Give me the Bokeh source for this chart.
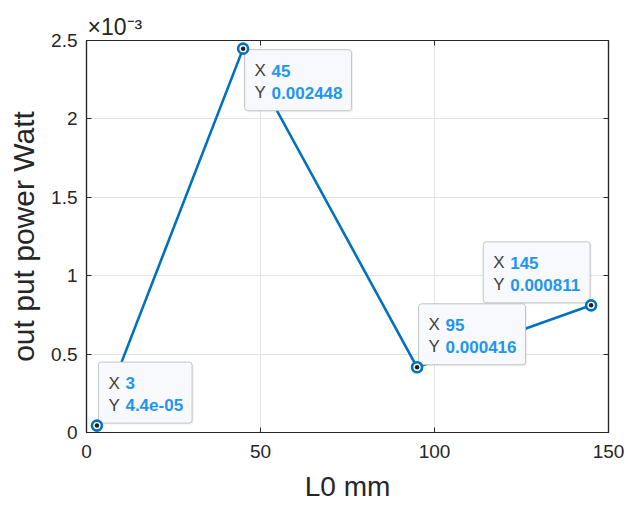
from bokeh.plotting import figure
from bokeh.models import Range1d, FixedTicker, LinearAxis, Label
from bokeh.embed import file_html
from bokeh.resources import INLINE

# ---------------- data ----------------
x_vals = [3, 45, 95, 145]
y_vals = [4.4e-05, 0.002448, 0.000416, 0.000811]
x_ticks = [0, 50, 100, 150]
x_tick_labels = ["0", "50", "100", "150"]
y_ticks = [0, 0.5, 1, 1.5, 2, 2.5]
y_tick_labels = ["0", "0.5", "1", "1.5", "2", "2.5"]
y_exponent = -3
x_label = "L0 mm"
y_label = "out put power Watt"
tip_place = ["up-right", "down-right", "up-right", "up-left"]

# ---------------- style ----------------
FONT = "Liberation Sans"
AX = "#262626"
LINE = "#0072BD"
TIPBLUE = "#1E96F0"
W, H = 628, 508
ML, MR, MT, MB = 86, 20, 40, 76
FW, FH = W - ML - MR, H - MT - MB

scale = 10 ** (-y_exponent)
ys = [v * scale for v in y_vals]

x0, x1 = x_ticks[0], x_ticks[-1]
y0, y1 = y_ticks[0], y_ticks[-1]
dxpp = (x1 - x0) / FW
dypp = (y1 - y0) / FH

sup = str.maketrans("-0123456789", "\u207b\u2070\u00b9\u00b2\u00b3\u2074\u2075\u2076\u2077\u2078\u2079")
exp_text = "\u00d710" + str(y_exponent).translate(sup)

p = figure(width=W, height=H, x_range=Range1d(x0, x1), y_range=Range1d(y0, y1),
           output_backend="svg", toolbar_location=None,
           min_border_left=ML, min_border_right=MR, min_border_top=MT, min_border_bottom=MB,
           background_fill_color="white", border_fill_color="white")
p.outline_line_color = AX
p.outline_line_width = 1.2

p.title.text = exp_text
p.title.align = "left"
p.title.offset = 1
p.title.standoff = 1
p.title.text_font = FONT
p.title.text_font_size = "23px"
p.title.text_font_style = "normal"
p.title.text_color = AX

def style_axis(ax, ticks, labels, show):
    ax.ticker = FixedTicker(ticks=ticks)
    ax.major_tick_in = 5
    ax.major_tick_out = 0
    ax.minor_tick_line_color = None
    ax.axis_line_color = AX
    ax.axis_line_width = 1.2
    ax.major_tick_line_color = AX
    ax.major_tick_line_width = 1
    ax.major_label_text_font = FONT
    ax.major_label_text_color = AX
    if show:
        ax.major_label_overrides = {t: l for t, l in zip(ticks, labels)}
        ax.major_label_text_font_size = "19px"
    else:
        ax.major_label_overrides = {t: "" for t in ticks}
        ax.major_label_text_font_size = "1px"
        ax.major_label_standoff = 0

style_axis(p.xaxis[0], x_ticks, x_tick_labels, True)
style_axis(p.yaxis[0], y_ticks, y_tick_labels, True)
p.xaxis[0].major_label_standoff = 12
p.yaxis[0].major_label_standoff = 9
for ax, lab, st, fs in ((p.xaxis[0], x_label, 10, "28px"), (p.yaxis[0], y_label, 8, "30px")):
    ax.axis_label = lab
    ax.axis_label_text_font = FONT
    ax.axis_label_text_font_style = "normal"
    ax.axis_label_text_font_size = fs
    ax.axis_label_text_color = AX
    ax.axis_label_standoff = st

top_ax = LinearAxis()
right_ax = LinearAxis()
style_axis(top_ax, x_ticks, x_tick_labels, False)
style_axis(right_ax, y_ticks, y_tick_labels, False)
p.add_layout(top_ax, "above")
p.add_layout(right_ax, "right")

p.xgrid.ticker = FixedTicker(ticks=x_ticks)
p.ygrid.ticker = FixedTicker(ticks=y_ticks)
p.grid.grid_line_color = "#E3E3E3"
p.grid.grid_line_width = 1

# data line
p.line(x_vals, ys, line_color=LINE, line_width=2.6)

# datatips
char_w = {".": 0.278, "-": 0.333, "e": 0.556}
def text_w(s, size):
    return sum(char_w.get(c, 0.556) for c in s) * size

lefts, rights, bottoms, tops = [], [], [], []
tips = []
for xv, yv, yd, place in zip(x_vals, y_vals, ys, tip_place):
    xs = f"{xv:g}"
    ys_s = f"{yv:.4g}"
    w = 27 + max(text_w(xs, 17), text_w(ys_s, 17)) + 9
    if place.endswith("right"):
        l_px, r_px = 1.5, 1.5 + w
    else:
        l_px, r_px = -1 - w, -1
    if place.startswith("up"):
        b_px, t_px = 2.5, 63.5
    else:
        b_px, t_px = -62, -1
    lefts.append(xv + l_px * dxpp)
    rights.append(xv + r_px * dxpp)
    bottoms.append(yd + b_px * dypp)
    tops.append(yd + t_px * dypp)
    tips.append((xv, yd, l_px, t_px, xs, ys_s))

# soft shadow + boxes
p.quad(left=[l + 1.5 * dxpp for l in lefts], right=[r + 1.5 * dxpp for r in rights],
       bottom=[b - 1.5 * dypp for b in bottoms], top=[t - 1.5 * dypp for t in tops],
       fill_color="#000000", fill_alpha=0.06, line_color=None, border_radius=3)
p.quad(left=lefts, right=rights, bottom=bottoms, top=tops,
       fill_color="#F8F9FC", line_color="#C4C4C4", line_width=1, border_radius=3)

# markers
p.scatter(x_vals, ys, size=10, marker="circle", fill_color="white",
          line_color=LINE, line_width=2.6)
p.scatter(x_vals, ys, size=4.5, marker="circle", fill_color="#202020", line_color=None)

for xv, yd, l_px, t_px, xs, ys_s in tips:
    for row, (k, v) in enumerate((("X", xs), ("Y", ys_s))):
        yo = t_px - 21 - 22 * row
        p.add_layout(Label(x=xv, y=yd, x_offset=l_px + 10, y_offset=yo, text=k,
                           text_font=FONT, text_font_size="17px", text_color="#404040",
                           text_baseline="middle", text_align="left"))
        p.add_layout(Label(x=xv, y=yd, x_offset=l_px + 27, y_offset=yo, text=v,
                           text_font=FONT, text_font_size="17px", text_font_style="bold",
                           text_color=TIPBLUE, text_baseline="middle", text_align="left"))

open("out.html", "w").write(file_html(p, INLINE))
